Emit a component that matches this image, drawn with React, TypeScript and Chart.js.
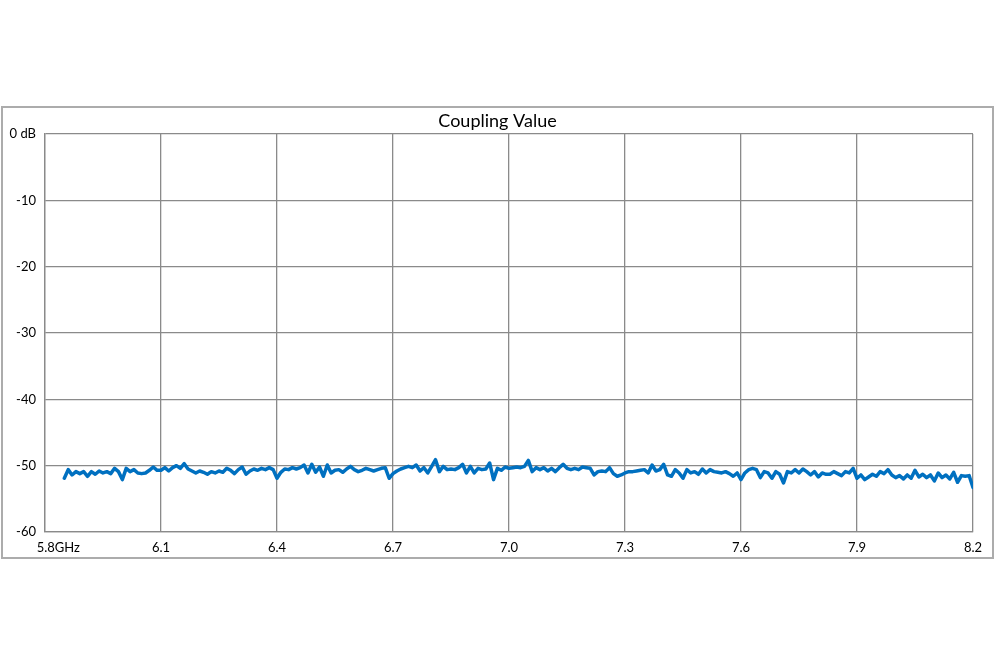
import { useEffect, useRef } from "react";
import { Chart, registerables } from "chart.js";

Chart.register(...registerables);

// Frequency sweep (GHz): first sample and spacing of the samples
const FREQ_START = 5.85;
const FREQ_STEP = 0.01;

// Coupling value (dB), 0.1 GHz per row
const coupling_585_604 = [
  -51.9, -50.6, -51.4, -50.9, -51.2, -50.9, -51.6, -50.9, -51.3, -50.8,
  -51.1, -50.9, -51.2, -50.4, -50.9, -52.1, -50.4, -50.9, -50.6, -51.1,
];
const coupling_605_644 = [
  -51.2, -51.1, -50.7, -50.2, -50.7, -50.7, -50.3, -50.8, -50.3, -50.0,
  -50.4, -49.7, -50.5, -50.8, -51.1, -50.8, -51.0, -51.3, -50.9, -51.1,
  -50.8, -51.0, -50.4, -50.7, -51.2, -50.6, -50.2, -51.3, -50.8, -50.5,
  -50.7, -50.4, -50.6, -50.3, -50.6, -51.9, -51.0, -50.5, -50.6, -50.3,
];
const coupling_645_684 = [
  -50.5, -50.3, -49.9, -51.1, -49.8, -51.0, -50.2, -51.6, -49.9, -51.1,
  -50.7, -50.6, -51.0, -50.5, -50.1, -50.6, -50.9, -50.7, -50.4, -50.6,
  -50.8, -50.6, -50.4, -50.3, -51.9, -51.2, -50.8, -50.5, -50.3, -50.1,
  -50.3, -49.9, -50.8, -50.3, -51.1, -50.1, -49.1, -50.9, -50.1, -50.6,
];
const coupling_685_724 = [
  -50.5, -50.6, -50.3, -49.8, -51.1, -50.1, -51.1, -50.4, -50.6, -50.5,
  -49.6, -52.1, -50.4, -50.7, -50.2, -50.4, -50.3, -50.2, -50.3, -50.1,
  -49.2, -50.9, -50.3, -50.6, -50.3, -50.8, -50.4, -50.9, -50.3, -49.8,
  -50.4, -50.6, -50.4, -50.6, -50.2, -50.3, -50.4, -51.4, -50.9, -50.8,
];
const coupling_725_764 = [
  -50.9, -50.3, -51.2, -51.6, -51.4, -51.1, -50.9, -50.9, -50.8, -50.7,
  -50.6, -51.1, -49.9, -50.8, -50.6, -49.8, -51.4, -51.6, -50.6, -51.1,
  -51.9, -50.6, -51.1, -50.9, -51.3, -50.5, -51.1, -50.6, -50.9, -51.0,
  -51.1, -50.9, -51.2, -51.6, -51.1, -52.1, -51.1, -50.6, -50.4, -50.6,
];
const coupling_765_804 = [
  -51.8, -50.9, -51.1, -51.9, -50.9, -51.3, -52.6, -50.9, -51.1, -50.6,
  -51.1, -50.5, -50.9, -51.4, -50.9, -51.7, -51.1, -51.3, -51.3, -50.9,
  -51.2, -51.5, -50.9, -51.1, -50.4, -51.9, -51.4, -52.1, -51.7, -51.3,
  -51.6, -50.9, -51.2, -50.6, -51.4, -51.8, -51.5, -52.0, -51.4, -51.9,
];
const coupling_805_820 = [
  -50.7, -51.7, -51.3, -51.8, -51.4, -52.3, -51.1, -51.8, -51.4, -52.0,
  -51.0, -52.5, -51.5, -51.6, -51.5, -53.3,
];

const couplingValues = [
  ...coupling_585_604,
  ...coupling_605_644,
  ...coupling_645_684,
  ...coupling_685_724,
  ...coupling_725_764,
  ...coupling_765_804,
  ...coupling_805_820,
];

// Axis settings
const X_MIN = 5.8;
const X_MAX = 8.2;
const X_STEP = 0.3;
const Y_MIN = -60;
const Y_MAX = 0;
const Y_STEP = 10;
const TITLE = "Coupling Value";

const GRID = "#8a8a8a";
const FONT = "Lato, 'Open Sans', sans-serif";

export default function App() {
  const ref = useRef<HTMLCanvasElement | null>(null);

  useEffect(() => {
    if (!ref.current) return;
    const points = couplingValues.map((v, i) => ({
      x: +(FREQ_START + i * FREQ_STEP).toFixed(2),
      y: v,
    }));
    const chart = new Chart(ref.current, {
      type: "line",
      data: {
        datasets: [
          {
            label: TITLE,
            data: points,
            borderColor: "#0070C0",
            backgroundColor: "#0070C0",
            borderWidth: 3.5,
            borderJoinStyle: "round",
            borderCapStyle: "round",
            pointRadius: 0,
            tension: 0,
            fill: false,
          },
        ],
      },
      options: {
        responsive: false,
        animation: false,
        layout: { padding: { left: 0, right: 5, top: 0, bottom: 0 } },
        plugins: {
          legend: { display: false },
          tooltip: { enabled: false },
          title: {
            display: true,
            text: TITLE,
            color: "#000",
            font: { family: FONT, size: 18, weight: "normal", lineHeight: 1.2 },
            padding: { top: 110.5, bottom: 1.9 },
          },
        },
        scales: {
          x: {
            type: "linear",
            min: X_MIN,
            max: X_MAX,
            afterFit: (s: any) => {
              s.height = 135;
            },
            ticks: {
              stepSize: X_STEP,
              autoSkip: false,
              maxRotation: 0,
              padding: 8,
              color: "#000",
              font: { family: FONT, size: 13 },
              callback: (v: any) => {
                const n = Number(v);
                if (Math.abs(n - X_MIN) < 1e-6) return "        " + n.toFixed(1) + "GHz";
                return n.toFixed(1);
              },
            },
            grid: { color: GRID, lineWidth: 1.3, drawTicks: false },
            border: { display: true, color: GRID, width: 1.3 },
          },
          y: {
            type: "linear",
            min: Y_MIN,
            max: Y_MAX,
            afterFit: (s: any) => {
              s.width = 45;
            },
            ticks: {
              stepSize: Y_STEP,
              padding: 9,
              color: "#000",
              font: { family: FONT, size: 13 },
              callback: (v: any) => (Number(v) === 0 ? "0 dB" : String(v)),
            },
            grid: { color: GRID, lineWidth: 1.3, drawTicks: false },
            border: { display: true, color: GRID, width: 1.3 },
          },
          y2: {
            type: "linear",
            position: "right",
            display: true,
            afterFit: (s: any) => {
              s.width = 22;
            },
            ticks: { display: false },
            grid: { display: false, drawTicks: false },
            border: { display: false },
          },
        },
      },
    });
    return () => chart.destroy();
  }, []);

  return (
    <div
      style={{
        position: "fixed",
        left: 0,
        top: 0,
        width: 1000,
        height: 667,
        background: "#fff",
      }}
    >
      <canvas ref={ref} width={1000} height={667} style={{ position: "absolute", left: 0, top: 0 }} />
      <div
        style={{
          position: "absolute",
          left: 1,
          top: 106,
          width: 993,
          height: 453,
          boxSizing: "border-box",
          border: "2px solid #acacac",
          pointerEvents: "none",
        }}
      />
    </div>
  );
}
